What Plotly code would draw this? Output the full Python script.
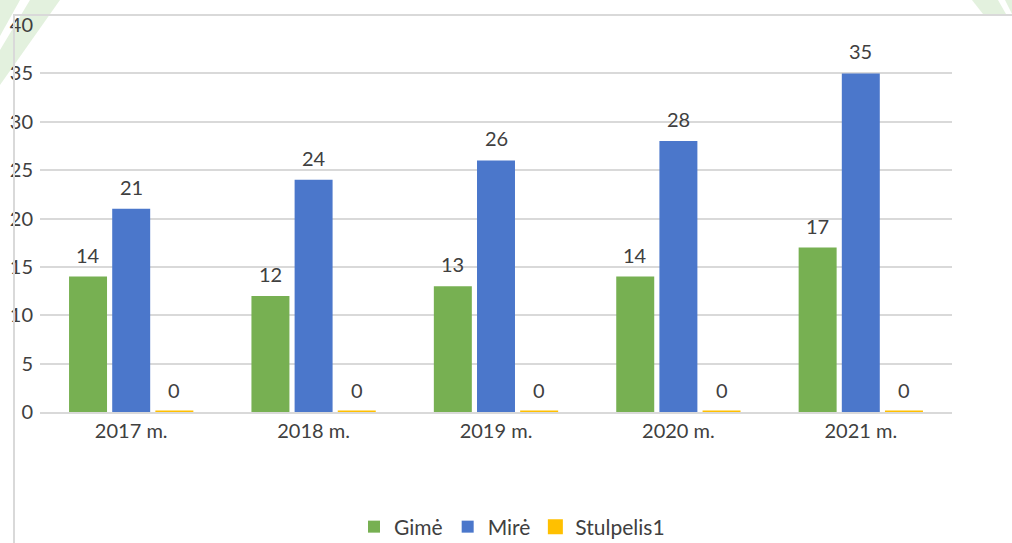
import plotly.graph_objects as go

categories = ["2017 m.", "2018 m.", "2019 m.", "2020 m.", "2021 m."]
gime = [14, 12, 13, 14, 17]
mire = [21, 24, 26, 28, 35]
stulpelis1 = [0, 0, 0, 0, 0]

TXT = "#404040"
FONT = "Lato"
FS = 20

series = [
    ("Gimė", gime, "#77B052"),
    ("Mirė", mire, "#4B77CB"),
    ("Stulpelis1", stulpelis1, "#FFC000"),
]

fig = go.Figure()
for name, vals, col in series:
    fig.add_trace(go.Bar(name=name, x=categories, y=vals, cliponaxis=False,
                         marker=dict(color=col, line=dict(width=3 if max(vals) == 0 else 0, color=col))))

# geometry for value labels above grouped bars
plot_w = 912
cat_w = plot_w / len(categories)
bargap = 0.29
slot = cat_w * (1 - bargap) / len(series)

annotations = []
for i, (name, vals, col) in enumerate(series):
    shift = (i - (len(series) - 1) / 2) * slot
    for c, v in zip(categories, vals):
        annotations.append(dict(x=c, y=v, xref="x", yref="y", text=str(v), showarrow=False,
                                xanchor="center", yanchor="bottom", xshift=shift, yshift=8,
                                font=dict(family=FONT, size=FS, color=TXT)))

def px(x):
    return (x - 40) / 912

def py(y):
    return (412 - y) / 387

shapes = []
def poly(pts):
    d = "M " + " L ".join(f"{px(a):.4f},{py(b):.4f}" for a, b in pts) + " Z"
    return dict(type="path", xref="paper", yref="paper", path=d,
                fillcolor="#E3F1DE", line=dict(width=0), layer="below")
# decorative background stripes
shapes.append(poly([(0, 0), (20, 0), (0, 36)]))
shapes.append(poly([(30, 0), (60, 0), (0, 85), (0, 50)]))
shapes.append(poly([(972, 0), (998, 0), (1006, 14), (983, 14)]))
shapes.append(poly([(1005, 0), (1012, 0), (1012, 14)]))
# chart frame lines
shapes.append(dict(type="line", xref="paper", yref="paper", x0=px(14), x1=px(1015), y0=py(15), y1=py(15),
                   line=dict(color="#D9D9D9", width=2)))
shapes.append(dict(type="line", xref="paper", yref="paper", x0=px(14), x1=px(14), y0=py(14), y1=py(545),
                   line=dict(color="#D9D9D9", width=2)))

fig.update_layout(
    width=1012, height=543,
    margin=dict(l=40, r=60, t=25, b=131, autoexpand=False),
    paper_bgcolor="white", plot_bgcolor="white",
    barmode="group", bargap=bargap, bargroupgap=0.12,
    font=dict(family=FONT, size=FS, color=TXT),
    showlegend=True,
    legend=dict(orientation="h", x=px(354), xanchor="left", y=py(527), yanchor="middle",
                font=dict(family=FONT, size=21, color=TXT), traceorder="normal"),
    shapes=shapes,
    annotations=annotations,
    xaxis=dict(showgrid=False, showline=True, linecolor="#D9D9D9", linewidth=2, ticks="",
               layer="below traces", tickfont=dict(family=FONT, size=FS, color=TXT)),
    yaxis=dict(range=[0, 40], dtick=5, showgrid=True, gridcolor="#D9D9D9", gridwidth=1.5,
               zeroline=False, showline=False, ticks="", layer="below traces",
               tickfont=dict(family=FONT, size=FS, color=TXT), ticklabelstandoff=6),
)

fig.write_html("out.html", config={"displayModeBar": False},
               post_script="document.body.style.margin='0';document.body.style.overflow='hidden';")
